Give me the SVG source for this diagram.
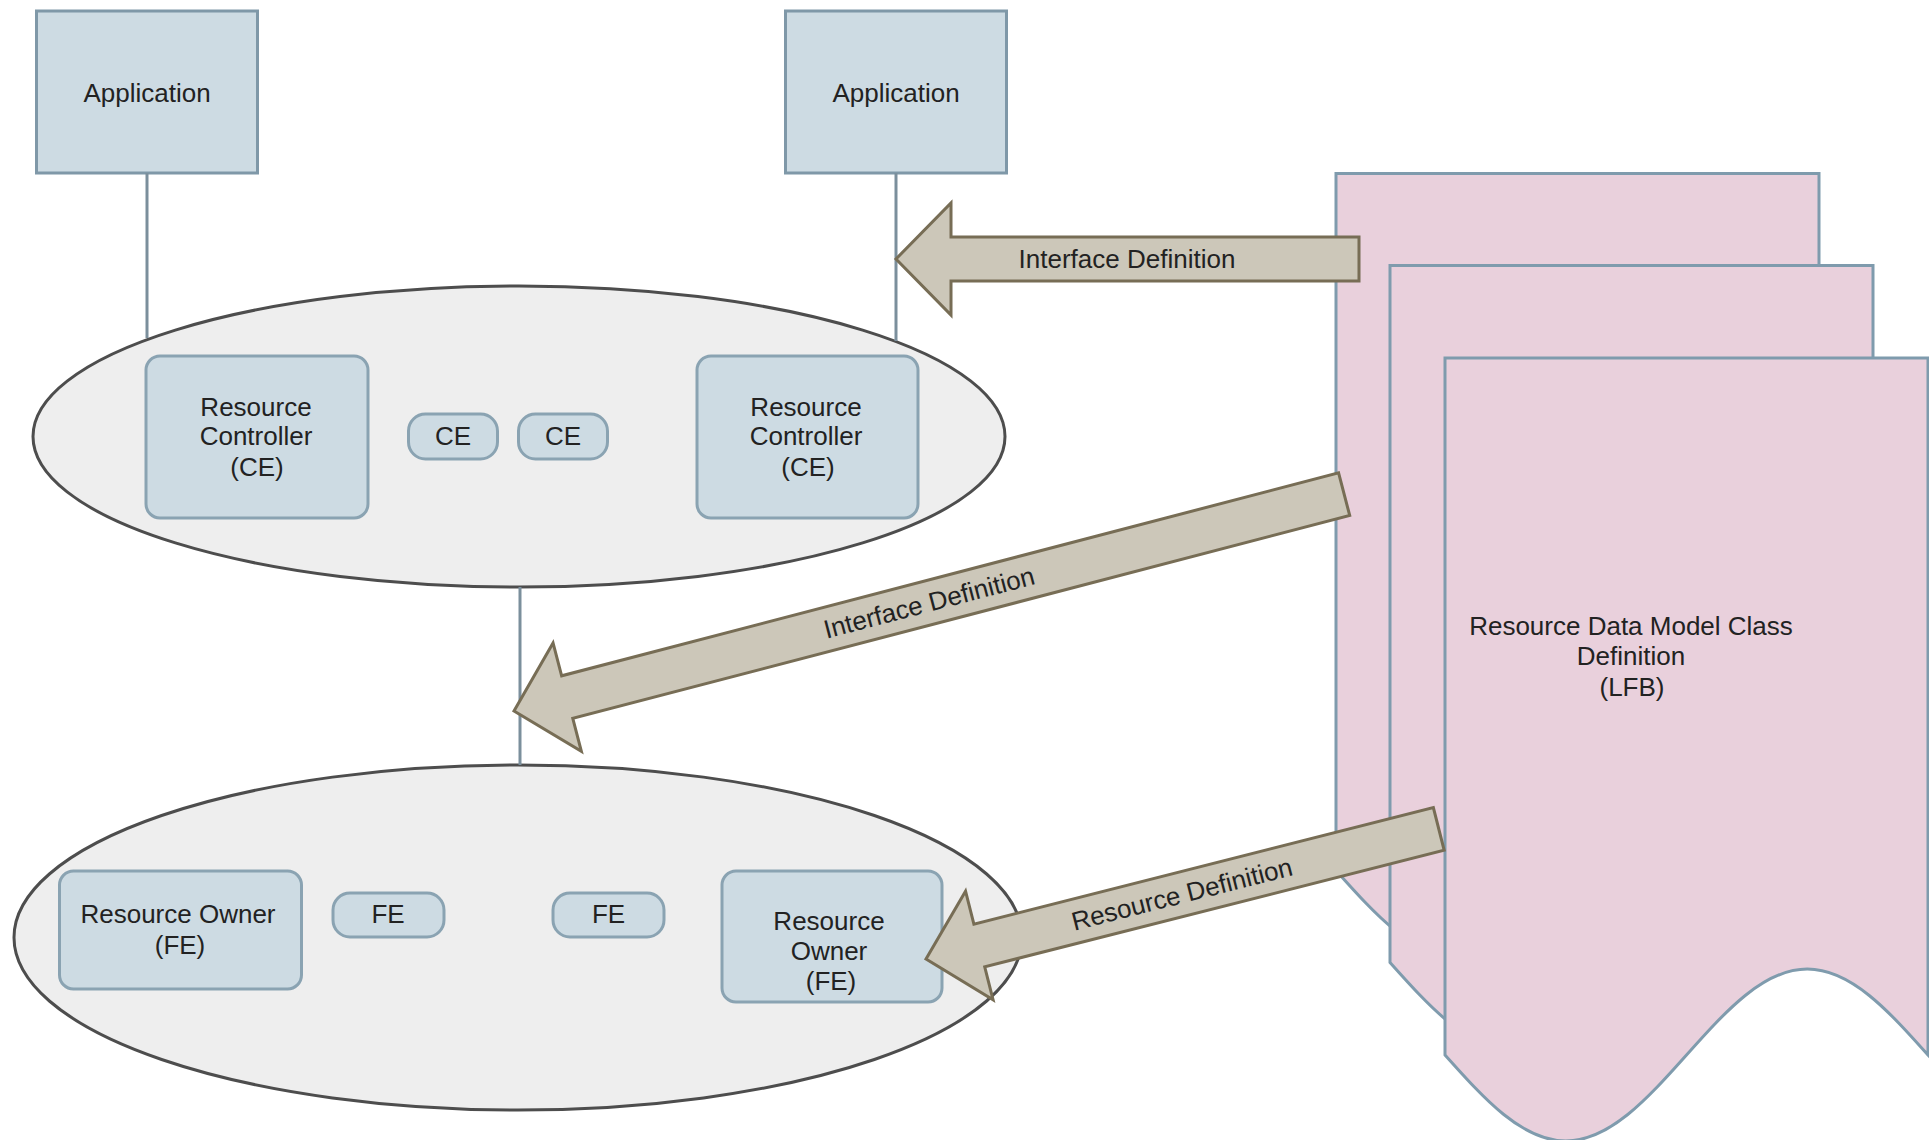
<svg xmlns="http://www.w3.org/2000/svg" width="1929" height="1140" viewBox="0 0 1929 1140">
<style>
  text { font-family: "Liberation Sans", Arial, sans-serif; font-size: 26px; fill: #222; text-anchor: middle; }
  .app { fill: #CDDBE3; stroke: #7F98A8; stroke-width: 3; }
  .box { fill: #CDDBE3; stroke: #8AA3B2; stroke-width: 3; }
  .ell { fill: #EEEEEE; stroke: #4D4D4D; stroke-width: 3; }
  .paper { fill: #E9D0DC; stroke: #7F9BAD; stroke-width: 3; }
  .line { stroke: #7B8F9C; stroke-width: 3; fill: none; }
  .arrow { fill: #CCC7B9; stroke: #776D55; stroke-width: 3; stroke-linejoin: miter; }
</style>
<defs>
  <path id="paperShape" d="M0,0 H483 V697 C443.62,652.94 405.95,611 362.25,611 C318.55,611 280.88,652.94 241.5,697 C202.12,741.06 164.45,783 120.75,783 C77.05,783 39.38,741.06 0,697 Z"/>
</defs>
<rect width="1929" height="1140" fill="#FFFFFF"/>

<g id="lfb-papers">
  <use href="#paperShape" class="paper" transform="translate(1336,173.5)"/>
  <use href="#paperShape" class="paper" transform="translate(1390,265.5)"/>
  <use href="#paperShape" class="paper" transform="translate(1445,358)"/>
  <text x="1631" y="635">Resource Data Model Class</text>
  <text x="1631" y="665">Definition</text>
  <text x="1632" y="696">(LFB)</text>
</g>

<g id="ce-group">
  <ellipse class="ell" cx="519" cy="436.5" rx="486" ry="150.5"/>
</g>
<g id="fe-group">
  <ellipse class="ell" cx="518" cy="937.5" rx="504" ry="172.5"/>
</g>

<g id="app-left">
  <rect class="app" x="36.5" y="11" width="221" height="162"/>
  <text x="147" y="102">Application</text>
</g>
<g id="app-right">
  <rect class="app" x="785.5" y="11" width="221" height="162"/>
  <text x="896" y="102">Application</text>
</g>

<g id="rc-left">
  <rect class="box" x="146" y="356" width="222" height="162" rx="14"/>
  <text x="256" y="416">Resource</text>
  <text x="256" y="445">Controller</text>
  <text x="257" y="476">(CE)</text>
</g>
<g id="ce-1">
  <rect class="box" x="408.5" y="414" width="89" height="45" rx="17"/>
  <text x="453" y="445">CE</text>
</g>
<g id="ce-2">
  <rect class="box" x="518.5" y="414" width="89" height="45" rx="17"/>
  <text x="563" y="445">CE</text>
</g>
<g id="rc-right">
  <rect class="box" x="697" y="356" width="221" height="162" rx="14"/>
  <text x="806" y="416">Resource</text>
  <text x="806" y="445">Controller</text>
  <text x="808" y="476">(CE)</text>
</g>

<g id="ro-left">
  <rect class="box" x="59.5" y="871" width="242" height="118" rx="14"/>
  <text x="178" y="923">Resource Owner</text>
  <text x="180" y="954">(FE)</text>
</g>
<g id="fe-1">
  <rect class="box" x="333" y="893" width="111" height="44" rx="17"/>
  <text x="388" y="923">FE</text>
</g>
<g id="fe-2">
  <rect class="box" x="553" y="893" width="111" height="44" rx="17"/>
  <text x="608.5" y="923">FE</text>
</g>
<g id="ro-right">
  <rect class="box" x="722" y="871" width="220" height="131" rx="14"/>
  <text x="829" y="930">Resource</text>
  <text x="829" y="960">Owner</text>
  <text x="831" y="990">(FE)</text>
</g>

<g id="connectors">
  <line class="line" x1="147" y1="173" x2="147" y2="338"/>
  <line class="line" x1="896" y1="173" x2="896" y2="341"/>
  <line class="line" x1="520" y1="587" x2="520" y2="765"/>

  <g transform="translate(896,259)">
    <path class="arrow" d="M0,0 L55,-56 L55,-22 L463,-22 L463,22 L55,22 L55,56 Z"/>
    <text x="231" y="9">Interface Definition</text>
  </g>
  <g transform="translate(514,711) rotate(-14.64)">
    <path class="arrow" d="M0,0 L55,-56 L55,-22 L858,-22 L858,22 L55,22 L55,56 Z"/>
    <text x="429" y="9">Interface Definition</text>
  </g>
  <g transform="translate(926,959) rotate(-14.23)">
    <path class="arrow" d="M0,0 L55,-56 L55,-22 L529,-22 L529,22 L55,22 L55,56 Z"/>
    <text x="264" y="9">Resource Definition</text>
  </g>
</g>
</svg>
